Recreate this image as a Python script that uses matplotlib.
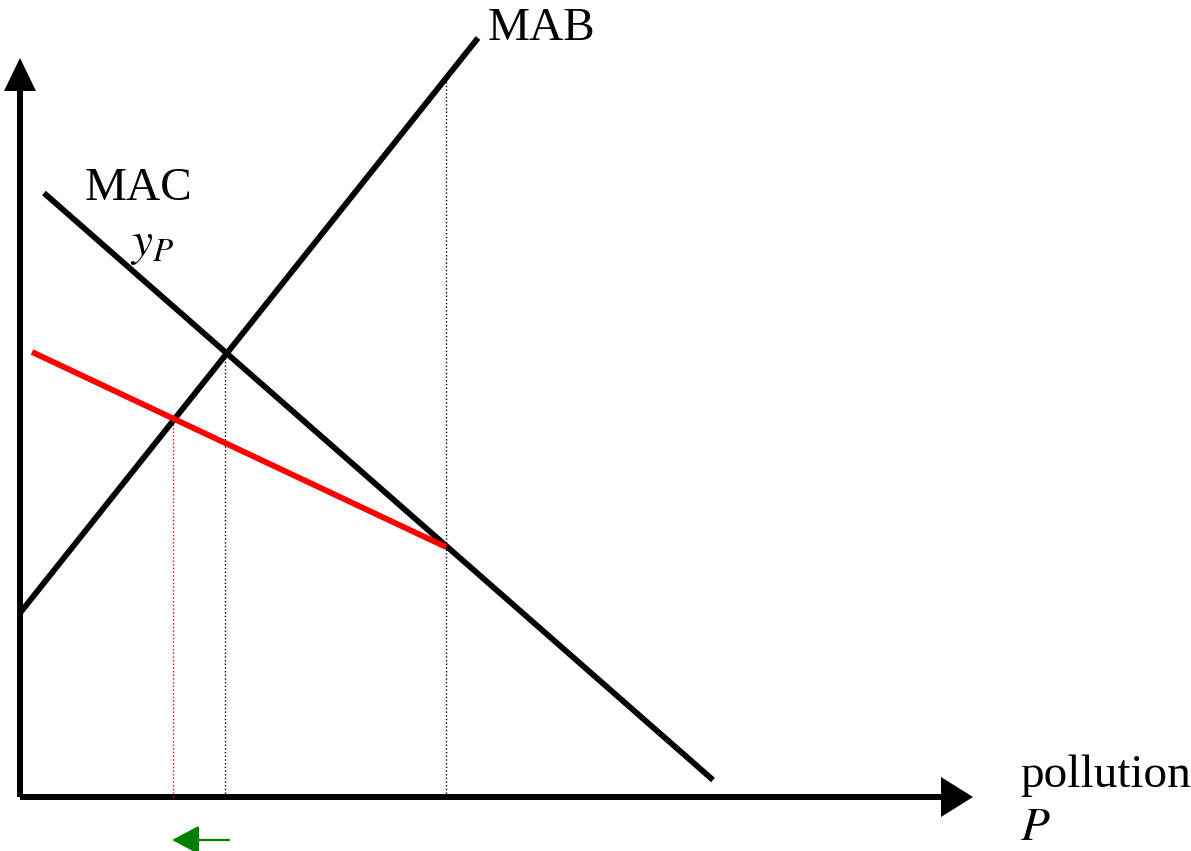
import numpy as np
import matplotlib
matplotlib.use("Agg")
import matplotlib.pyplot as plt

# curve endpoints in diagram units (pollution P, $ per unit)
mab_x = [0, 458]
mab_y = [184, 759]
mac_x = [24, 693]
mac_y = [604, 17]
new_mac_x = [12, 426]
new_mac_y = [445, 250]

# quantities marked with dotted guides
q_new = 153      # new optimum (red MAC meets MAB)
q_star = 205     # old optimum (MAC meets MAB)
q_kink = 426     # where the red MAC rejoins MAC

plt.rcParams['font.family'] = ['Liberation Serif', 'DejaVu Serif']
plt.rcParams['mathtext.fontset'] = 'stix'

fig = plt.figure(figsize=(11.91, 8.51), dpi=100)
ax = fig.add_axes([0, 0, 1, 1])
ax.set_xlim(-20, 1171)
ax.set_ylim(-54, 797)
ax.axis('off')

def mab(q):
    return np.interp(q, mab_x, mab_y)

def mac(q):
    return np.interp(q, mac_x, mac_y)

# dotted guides down to the axis
ax.plot([q_new, q_new], [0, mab(q_new)], color='red', lw=1, ls=':')
ax.plot([q_star, q_star], [0, mab(q_star)], color='black', lw=1, ls=':')
ax.plot([q_kink, q_kink], [0, mab(q_kink)], color='black', lw=1, ls=':')

# curves
ax.plot(mab_x, mab_y, color='black', lw=4.2, solid_capstyle='butt')
ax.plot(mac_x, mac_y, color='black', lw=4.2, solid_capstyle='butt')
ax.plot(new_mac_x, new_mac_y, color='red', lw=4.2, solid_capstyle='butt')

# axes with arrow heads
ax.arrow(0, 0, 953, 0, width=6, head_width=40, head_length=32,
         length_includes_head=True, color='black', lw=0)
ax.arrow(0, 0, 0, 739, width=6, head_width=32, head_length=33,
         length_includes_head=True, color='black', lw=0)

# green arrow: pollution falls
ax.annotate('', xy=(q_new - 1, -43), xytext=(q_star + 4, -43),
            arrowprops=dict(arrowstyle='-|>,head_length=17,head_width=9',
                            mutation_scale=1, color='green', lw=1.6,
                            shrinkA=0, shrinkB=0))

# labels
ax.text(468, 757, 'MAB', fontsize=34, va='baseline', ha='left')
ax.text(65, 597, 'MAC', fontsize=34, va='baseline', ha='left')
ax.text(110, 542, '$y_P$', fontsize=34, va='baseline', ha='left')
ax.text(1000, 10, 'pollution', fontsize=34, va='baseline', ha='left')
ax.text(1000, -43, '$P$', fontsize=34, va='baseline', ha='left')

fig.savefig('out.png', dpi=100)
